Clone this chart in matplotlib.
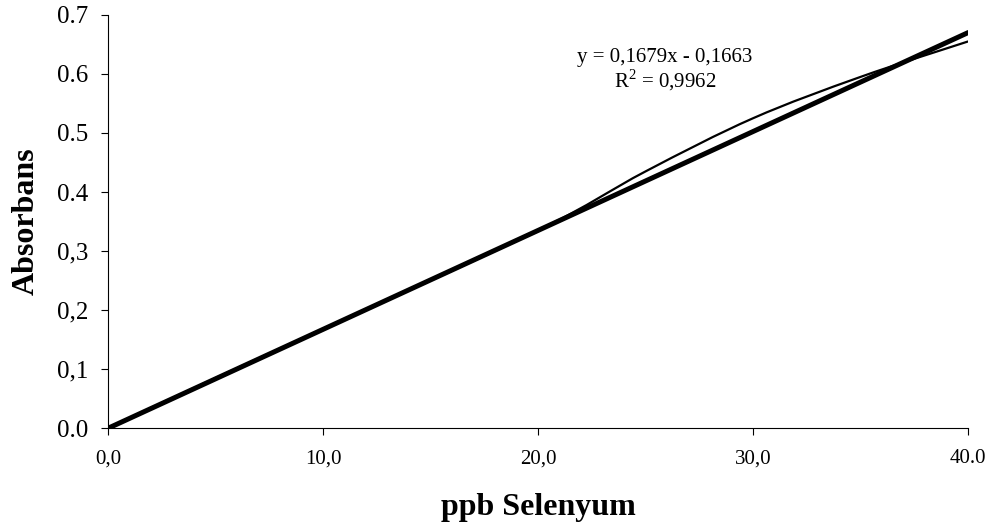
import numpy as np
import matplotlib
matplotlib.use("Agg")
import matplotlib.pyplot as plt
from matplotlib.path import Path
from matplotlib.patches import PathPatch

# data
ppb = [0, 5, 10, 20, 25, 30, 35, 40]
absorbans = [0.0, 0.085, 0.168, 0.335, 0.435, 0.525, 0.595, 0.655]

# trendline end points
trend_x = [0, 40]
trend_y = [0.0, 0.67]

x_ticks = [0, 10, 20, 30, 40]
x_labels = ['0,0', '10,0', '20,0', '30,0', '40.0']
y_ticks = [0, 0.1, 0.2, 0.3, 0.4, 0.5, 0.6, 0.7]
y_labels = ['0.0', '0,1', '0,2', '0,3', '0.4', '0.5', '0.6', '0.7']

equation = 'y = 0,1679x - 0,1663'
r_squared = 'R$^2$ = 0,9962'

plt.rcParams['font.family'] = ['Liberation Serif', 'DejaVu Serif']
plt.rcParams['mathtext.fontset'] = 'custom'
plt.rcParams['mathtext.rm'] = 'Liberation Serif'

fig = plt.figure(figsize=(9.92, 5.30), dpi=100)
ax = fig.add_axes([0.109, 0.192, 0.867, 0.780])


def smooth_path(xs, ys, t=1/6):
    # Excel style smoothed line: bezier through the points
    pts = np.column_stack([xs, ys]).astype(float)
    verts = [pts[0]]
    codes = [Path.MOVETO]
    n = len(pts)
    for i in range(n - 1):
        p0 = pts[i - 1] if i > 0 else pts[i]
        p1 = pts[i]
        p2 = pts[i + 1]
        p3 = pts[i + 2] if i + 2 < n else pts[i + 1]
        c1 = p1 + (p2 - p0) * t
        c2 = p2 - (p3 - p1) * t
        verts += [c1, c2, p2]
        codes += [Path.CURVE4] * 3
    return Path(verts, codes)


ax.add_patch(PathPatch(smooth_path(ppb, absorbans), facecolor='none',
                       edgecolor='black', lw=1.6, zorder=3))
ax.plot(trend_x, trend_y, color='black', lw=3.6, solid_capstyle='round', zorder=2)

ax.set_xlim(0, 40)
ax.set_ylim(0, 0.7)
ax.set_xticks(x_ticks)
ax.set_xticklabels(x_labels)
ax.set_yticks(y_ticks)
ax.set_yticklabels(y_labels)
ax.tick_params(axis='both', direction='out', length=5, width=0.8)
ax.tick_params(axis='x', pad=10, labelsize=15)
ax.tick_params(axis='y', pad=9, labelsize=18)

for s in ['top', 'right']:
    ax.spines[s].set_visible(False)
for s in ['left', 'bottom']:
    ax.spines[s].set_linewidth(0.8)

ax.set_xlabel('ppb Selenyum', fontsize=23, fontweight='bold', labelpad=18)
ax.set_ylabel('Absorbans', fontsize=23, fontweight='bold', labelpad=12)

ax.text(25.9, 0.627, equation, ha='center', va='center', fontsize=15)
ax.text(25.9, 0.589, r_squared, ha='center', va='center', fontsize=15)

fig.savefig('out.png', dpi=100)
